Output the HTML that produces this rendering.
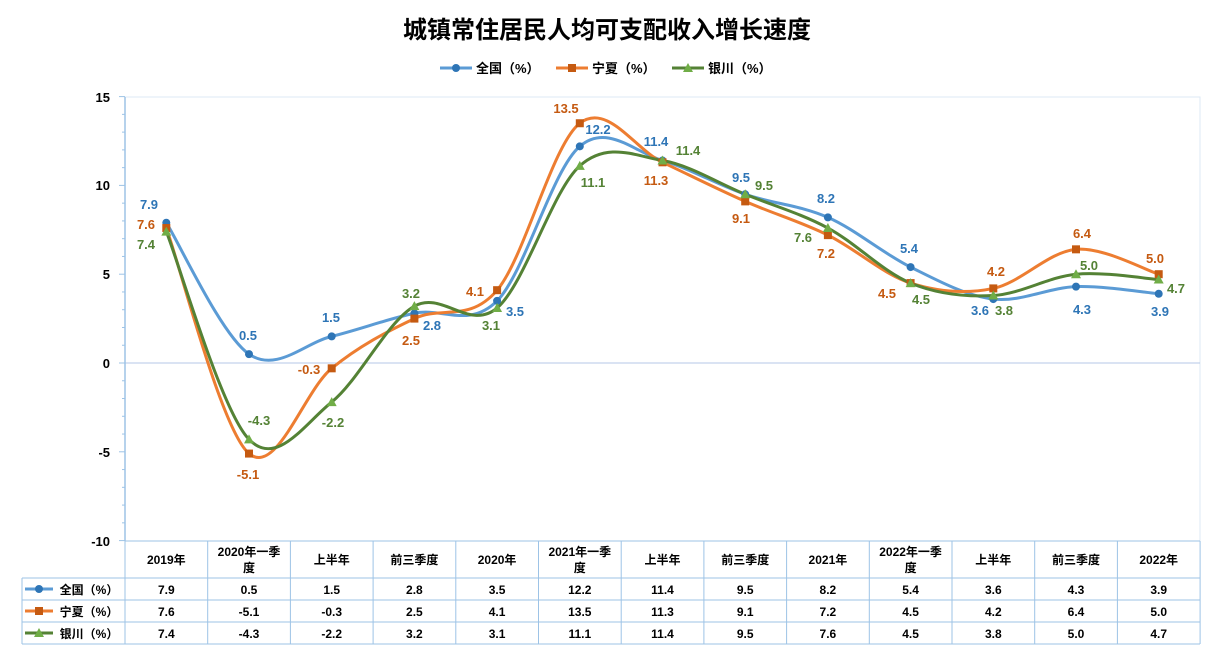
<!DOCTYPE html>
<html><head><meta charset="utf-8"><style>
body{margin:0;background:#fff;}
svg text{font-family:"Liberation Sans","Noto Sans CJK SC",sans-serif;}
</style></head><body>
<svg width="1215" height="652" xmlns="http://www.w3.org/2000/svg">
<text x="607" y="38" text-anchor="middle" font-size="24" font-weight="bold" font-family="'Liberation Serif','Noto Serif CJK SC',serif">城镇常住居民人均可支配收入增长速度</text>
<g font-size="13" font-weight="bold">
<line x1="440" y1="68" x2="472" y2="68" stroke="#5b9bd5" stroke-width="3"/><circle cx="456" cy="68" r="4" fill="#2e75b6"/><text x="476" y="73">全国（%）</text>
<line x1="556" y1="68" x2="588" y2="68" stroke="#ed7d31" stroke-width="3"/><rect x="568" y="64" width="8" height="8" fill="#c55a11"/><text x="592" y="73">宁夏（%）</text>
<line x1="672" y1="68" x2="704" y2="68" stroke="#548235" stroke-width="3"/><polygon points="688,63 693,72 683,72" fill="#70ad47"/><text x="708" y="73">银川（%）</text>
</g>
<rect x="125" y="97" width="1075" height="444" fill="none" stroke="#dde9f5"/>
<line x1="125" y1="363" x2="1200" y2="363" stroke="#b4c7e7"/>
<line x1="125" y1="97" x2="125" y2="541" stroke="#9dc3e6" stroke-width="1.5"/>
<g id="ticks" stroke="#9dc3e6"></g>
<g font-size="13" font-weight="bold" text-anchor="end">
<text x="110" y="102">15</text><text x="110" y="190">10</text><text x="110" y="279">5</text><text x="110" y="368">0</text><text x="110" y="457">-5</text><text x="110" y="546">-10</text>
</g>
<g id="series"></g>
<g id="labels" font-size="13" font-weight="bold" text-anchor="middle"></g>
<g id="table" stroke="#9dc3e6" fill="none"></g>
<g id="ttext" font-size="12" font-weight="bold" text-anchor="middle" font-family="'Liberation Serif','Noto Serif CJK SC',serif"></g>
</svg>
<script>
const NS="http://www.w3.org/2000/svg";
function el(p,t,a,txt){const e=document.createElementNS(NS,t);for(const k in a)e.setAttribute(k,a[k]);if(txt!==undefined)e.textContent=txt;document.getElementById(p).appendChild(e);return e;}
for(let v=-10;v<=15;v++){const y=363-17.76*v;el("ticks","line",{x1:v%5==0?119:122,x2:125,y1:y,y2:y});}
const X=i=>166.3+82.7*i, Y=v=>363-17.76*v;
const data=[[7.9,0.5,1.5,2.8,3.5,12.2,11.4,9.5,8.2,5.4,3.6,4.3,3.9],[7.6,-5.1,-0.3,2.5,4.1,13.5,11.3,9.1,7.2,4.5,4.2,6.4,5.0],[7.4,-4.3,-2.2,3.2,3.1,11.1,11.4,9.5,7.6,4.5,3.8,5.0,4.7]];
const lc=["#5b9bd5","#ed7d31","#548235"],mc=["#2e75b6","#c55a11","#70ad47"],tc=["#2e75b6","#c55a11","#548235"];
function path(d){const p=d.map((v,i)=>[X(i),Y(v)]);let s=`M${p[0][0]},${p[0][1]}`;for(let i=0;i<p.length-1;i++){const a=p[Math.max(i-1,0)],b=p[i],c=p[i+1],e=p[Math.min(i+2,p.length-1)];const t=0.5/3*2;s+=` C${b[0]+(c[0]-a[0])*t/2},${b[1]+(c[1]-a[1])*t/2} ${c[0]-(e[0]-b[0])*t/2},${c[1]-(e[1]-b[1])*t/2} ${c[0]},${c[1]}`;}return s;}
[0,1,2].forEach(k=>{el("series","path",{d:path(data[k]),stroke:lc[k],"stroke-width":3,fill:"none"});});
[0,1,2].forEach(k=>data[k].forEach((v,i)=>{const x=X(i),y=Y(v);if(k==0)el("series","circle",{cx:x,cy:y,r:4,fill:mc[0]});else if(k==1)el("series","rect",{x:x-4,y:y-4,width:8,height:8,fill:mc[1]});else el("series","polygon",{points:`${x},${y-5} ${x+5},${y+4} ${x-5},${y+4}`,fill:mc[2]});}));
const L=[[[149,204],[248,335],[331,317],[432,325],[515,311],[598,129],[656,141],[741,177],[826,198],[909,248],[980,310],[1082,309],[1160,311]],
[[146,224],[248,474],[309,369],[411,340],[475,291],[566,108],[656,180],[741,218],[826,253],[887,293],[996,271],[1082,233],[1155,258]],
[[146,244],[259,420],[333,422],[411,293],[491,325],[593,182],[688,150],[764,185],[803,237],[921,299],[1004,310],[1089,265],[1176,288]]];
[0,1,2].forEach(k=>data[k].forEach((v,i)=>el("labels","text",{x:L[k][i][0],y:L[k][i][1]+5,fill:tc[k]},v.toFixed(1))));
// table
const cx=[125];for(let i=1;i<=13;i++)cx.push(125+82.7*i);
el("table","line",{x1:125,y1:541,x2:1200,y2:541});
[578,600,622,644].forEach(y=>el("table","line",{x1:22,y1:y,x2:1200,y2:y}));
cx.forEach(x=>el("table","line",{x1:x,y1:541,x2:x,y2:644}));
el("table","line",{x1:22,y1:578,x2:22,y2:644});
const cats=["2019年",["2020年一季","度"],"上半年","前三季度","2020年",["2021年一季","度"],"上半年","前三季度","2021年",["2022年一季","度"],"上半年","前三季度","2022年"];
cats.forEach((c,i)=>{const x=X(i);if(Array.isArray(c)){el("ttext","text",{x,y:556},c[0]);el("ttext","text",{x,y:572},c[1]);}else el("ttext","text",{x,y:564},c);});
[0,1,2].forEach(k=>data[k].forEach((v,i)=>el("ttext","text",{x:X(i),y:594+22*k},v.toFixed(1))));
const names=["全国（%）","宁夏（%）","银川（%）"];
[0,1,2].forEach(k=>{const y=589+22*k;el("ttext","line",{x1:25,x2:53,y1:y,y2:y,stroke:lc[k],"stroke-width":3});
if(k==0)el("ttext","circle",{cx:39,cy:y,r:4,fill:mc[0]});else if(k==1)el("ttext","rect",{x:35,y:y-4,width:8,height:8,fill:mc[1]});else el("ttext","polygon",{points:`39,${y-5} 44,${y+4} 34,${y+4}`,fill:mc[2]});
el("ttext","text",{x:89,y:y+5,"font-family":"'Liberation Sans','Noto Sans CJK SC',sans-serif"},names[k]);});
</script>
</body></html>
